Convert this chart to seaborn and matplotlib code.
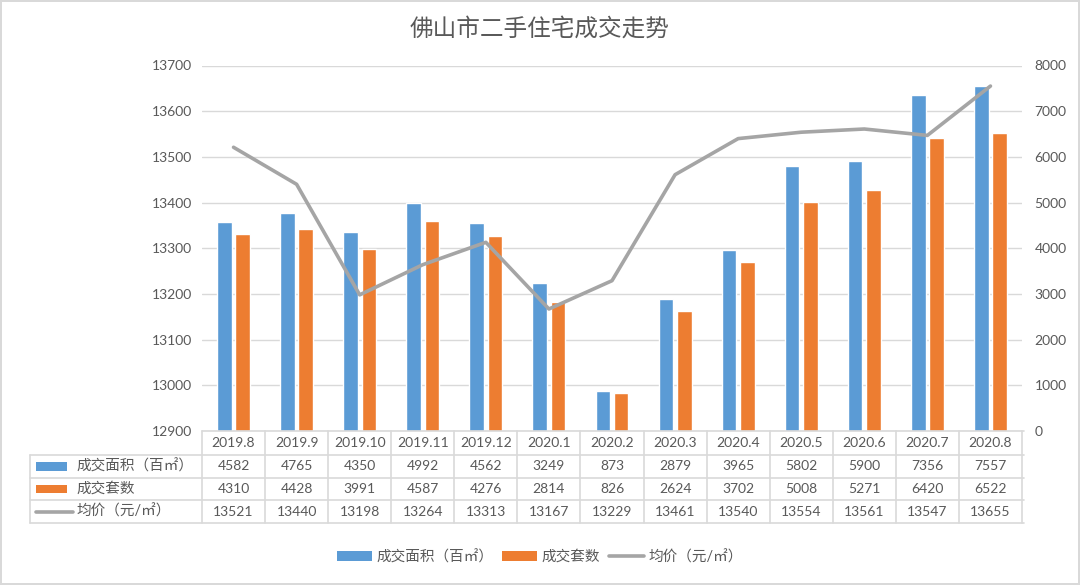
import matplotlib
matplotlib.use("Agg")
import matplotlib.pyplot as plt
import matplotlib.transforms as mtransforms
from matplotlib.lines import Line2D
from matplotlib.patches import Patch, Rectangle
import seaborn as sns
import pandas as pd
import numpy as np

# ---------------- data ----------------
months = ["2019.8", "2019.9", "2019.10", "2019.11", "2019.12", "2020.1", "2020.2",
          "2020.3", "2020.4", "2020.5", "2020.6", "2020.7", "2020.8"]
area = [4582, 4765, 4350, 4992, 4562, 3249, 873, 2879, 3965, 5802, 5900, 7356, 7557]
units = [4310, 4428, 3991, 4587, 4276, 2814, 826, 2624, 3702, 5008, 5271, 6420, 6522]
price = [13521, 13440, 13198, 13264, 13313, 13167, 13229, 13461, 13540, 13554, 13561, 13547, 13655]
series_names = ["成交面积（百㎡）", "成交套数", "均价（元/㎡）"]
title = "佛山市二手住宅成交走势"

BLUE, ORANGE, GRAY = "#5B9BD5", "#ED7D31", "#A5A5A5"
TXT = "#595959"
GRID = "#D9D9D9"

sns.set_theme(style="white")
plt.rcParams["font.family"] = ["Lato", "Noto Sans CJK SC", "DejaVu Sans"]

W, H = 1080, 585
fig = plt.figure(figsize=(W / 100, H / 100), dpi=100)
fig.patch.set_facecolor("white")
fig.patch.set_edgecolor(GRID)
fig.patch.set_linewidth(1.5)

def fx(px):
    return px / W

def fy(py):
    return 1 - py / H

left, right, top, bottom = 202, 1022, 65.5, 431
ax = fig.add_axes([fx(left), fy(bottom), fx(right) - fx(left), fy(top) - fy(bottom)])

df = pd.DataFrame({
    "month": months * 2,
    "value": area + units,
    "series": [series_names[0]] * len(months) + [series_names[1]] * len(months),
})
sns.barplot(data=df, x="month", y="value", hue="series", order=months,
            hue_order=series_names[:2], palette=[BLUE, ORANGE],
            width=0.58, gap=0.2, ax=ax, legend=False, saturation=1)
ax.set_xlim(-0.5, len(months) - 0.5)
ax.set_ylim(0, 8000)
ax.set_yticks(np.arange(0, 8001, 1000))
ax.set_xticks([])
ax.set_xlabel("")
ax.set_ylabel("")
ax.set_axisbelow(True)
ax.grid(axis="y", color=GRID, linewidth=1)
for s in ax.spines.values():
    s.set_visible(False)
ax.patch.set_alpha(0)

ax2 = ax.twinx()
sns.lineplot(x=np.arange(len(months)), y=price, ax=ax2, color=GRAY, linewidth=2.6)
ax2.set_ylim(12900, 13700)
ax2.set_yticks(np.arange(12900, 13701, 100))
ax2.yaxis.tick_left()
ax2.yaxis.set_label_position("left")
ax2.tick_params(axis="y", length=0, pad=7, labelsize=10, labelcolor=TXT,
                left=False, right=False, labelleft=True, labelright=False)
ax2.set_xlim(-0.5, len(months) - 0.5)
ax2.set_xticks([])
ax2.set_ylabel("")
ax2.grid(False)
for s in ax2.spines.values():
    s.set_visible(False)

# bar axis ticks on the right (after twinx, which resets them)
ax.yaxis.tick_right()
ax.tick_params(axis="y", length=0, pad=9, labelsize=10, labelcolor=TXT,
               left=False, right=False, labelleft=False, labelright=True)

# ---------------- title ----------------
fig.text(0.5, fy(28), title, ha="center", va="center", fontsize=17, color=TXT)

# ---------------- data table ----------------
blend = mtransforms.blended_transform_factory(ax.transData, fig.transFigure)
rows_y = [431, 455, 478, 500, 523]
lab_left = 30
lc = GRID
lw = 1.2
fig.add_artist(Line2D([fx(left), fx(right + 2)], [fy(rows_y[0])] * 2, color=lc, lw=lw))
for yy in rows_y[1:]:
    fig.add_artist(Line2D([fx(lab_left), fx(right + 2)], [fy(yy)] * 2, color=lc, lw=lw))
for i in range(len(months) + 1):
    fig.add_artist(Line2D([i - 0.5, i - 0.5], [fy(rows_y[0]), fy(rows_y[-1])],
                          color=lc, lw=lw, transform=blend))
fig.add_artist(Line2D([fx(lab_left)] * 2, [fy(rows_y[1]), fy(rows_y[-1])], color=lc, lw=lw))

def row_c(r):
    return fy((rows_y[r] + rows_y[r + 1]) / 2)

for i, m in enumerate(months):
    fig.text(i, row_c(0), m, transform=blend, ha="center", va="center", fontsize=10, color=TXT)
    fig.text(i, row_c(1), str(area[i]), transform=blend, ha="center", va="center", fontsize=10, color=TXT)
    fig.text(i, row_c(2), str(units[i]), transform=blend, ha="center", va="center", fontsize=10, color=TXT)
    fig.text(i, row_c(3), str(price[i]), transform=blend, ha="center", va="center", fontsize=10, color=TXT)

kx0, kx1 = 36, 67
for r, col in [(1, BLUE), (2, ORANGE)]:
    yc = (rows_y[r] + rows_y[r + 1]) / 2
    fig.add_artist(Rectangle((fx(kx0), fy(yc + 4)), fx(kx1) - fx(kx0), fy(yc - 4) - fy(yc + 4),
                             facecolor=col, edgecolor="none", transform=fig.transFigure))
yc3 = (rows_y[3] + rows_y[4]) / 2
fig.add_artist(Line2D([fx(kx0), fx(kx1 + 6)], [fy(yc3)] * 2, color=GRAY, lw=2.6,
                      solid_capstyle="round"))
for r, name in zip([1, 2, 3], series_names):
    fig.text(fx(76), row_c(r), name, ha="left", va="center", fontsize=10.5, color=TXT)

# ---------------- legend ----------------
handles = [Patch(facecolor=BLUE, edgecolor="none"),
           Patch(facecolor=ORANGE, edgecolor="none"),
           Line2D([0], [0], color=GRAY, lw=2.6)]
fig.legend(handles, series_names, loc="center", bbox_to_anchor=(fx(540), fy(557)),
           ncol=3, frameon=False, fontsize=10.5, labelcolor=TXT,
           handlelength=2.4, handleheight=0.6, handletextpad=0.3, columnspacing=0.6)

fig.savefig("out.png", dpi=100, facecolor=fig.get_facecolor(), edgecolor=fig.get_edgecolor())
